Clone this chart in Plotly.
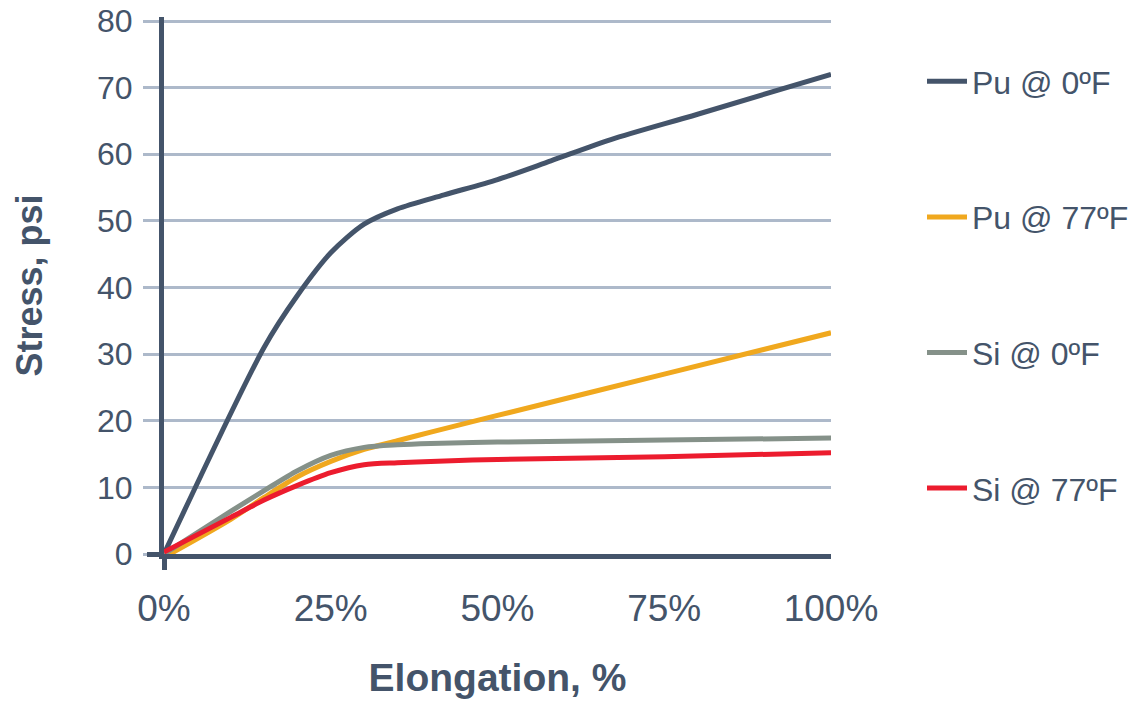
import plotly.graph_objects as go

# Data (elongation %, stress psi)
pu0_x = [0, 15, 20, 25, 30, 35, 42, 50, 58, 67, 80, 100]
pu0_y = [0, 31, 38.8, 45.2, 49.5, 51.8, 53.9, 56.2, 59.0, 62.2, 66.0, 72.0]

pu77_x = [0, 10, 15, 20, 25, 30, 35, 40, 50, 75, 100]
pu77_y = [-0.5, 5.2, 8.5, 11.6, 13.9, 15.7, 17.0, 18.3, 20.8, 27.0, 33.2]

si0_x = [0, 10, 15, 20, 25, 30, 35, 40, 50, 75, 100]
si0_y = [0, 6.4, 9.5, 12.5, 14.8, 16.0, 16.4, 16.6, 16.8, 17.1, 17.4]

si77_x = [0, 10, 15, 20, 25, 30, 35, 40, 50, 75, 100]
si77_y = [0.3, 5.5, 8.1, 10.3, 12.2, 13.4, 13.7, 13.9, 14.2, 14.6, 15.2]

names = ["Pu @ 0ºF", "Pu @ 77ºF", "Si @ 0ºF", "Si @ 77ºF"]
colors = ["#44546a", "#f0a81e", "#859189", "#ec1c2e"]

x_ticks = [0, 25, 50, 75, 100]
x_labels = ["0%", "25%", "50%", "75%", "100%"]
y_ticks = [0, 10, 20, 30, 40, 50, 60, 70, 80]

DARK = "#44546a"
GRID = "#adb9ca"
FONT = "Liberation Sans, Arial, sans-serif"

W, H = 1130, 693
ML, MR, MT, MB = 156, 307, 9, 147

fig = go.Figure()
series = [(pu0_x, pu0_y), (pu77_x, pu77_y), (si0_x, si0_y), (si77_x, si77_y)]
for i, ((xs, ys), n, c) in enumerate(zip(series, names, colors)):
    fig.add_trace(go.Scatter(
        x=xs, y=ys, name=n, mode="lines",
        line=dict(color=c, width=5, shape="spline", smoothing=0.8),
        legendgroup=f"g{i}", cliponaxis=False,
    ))

# empty trace so the overlay axes (used only for the origin stubs) are drawn
fig.add_trace(go.Scatter(x=[], y=[], xaxis="x2", yaxis="y2",
                         showlegend=False, hoverinfo="skip"))

fig.update_layout(
    width=W, height=H,
    margin=dict(l=ML, r=MR, t=MT, b=MB, autoexpand=False),
    paper_bgcolor="white", plot_bgcolor="white",
    font=dict(family=FONT, color=DARK),
    showlegend=True,
    legend=dict(
        xref="container", yref="container",
        x=914 / W, xanchor="left", y=1 - 46 / H, yanchor="top",
        font=dict(size=32, color=DARK, family=FONT),
        tracegroupgap=91, itemwidth=40, maxheight=650,
        bgcolor="rgba(0,0,0,0)",
    ),
    xaxis=dict(
        range=[0, 100], tickmode="array", tickvals=x_ticks, ticktext=x_labels,
        showgrid=False, zeroline=False,
        showline=True, linecolor=DARK, linewidth=5, layer="below traces",
        ticks="", ticklabelstandoff=18, ticklabeloverflow="allow",
        tickfont=dict(size=37, color=DARK, family=FONT),
        title=dict(text="<b>Elongation, %</b>", font=dict(size=39, color=DARK, family=FONT), standoff=37),
    ),
    yaxis=dict(
        range=[0, 80.6], tickmode="array", tickvals=y_ticks,
        showgrid=True, gridcolor=GRID, gridwidth=3,
        zeroline=False,
        showline=True, linecolor=DARK, linewidth=5, layer="below traces",
        ticks="outside", ticklen=16, tickwidth=3, tickcolor=GRID,
        ticklabelstandoff=4, ticklabeloverflow="allow",
        tickfont=dict(size=32, color=DARK, family=FONT),
        title=dict(text="<b>Stress, psi</b>", font=dict(size=36, color=DARK, family=FONT), standoff=45),
    ),
    # overlay axes: one dark tick at the origin each, extending the axis lines
    xaxis2=dict(
        overlaying="x", matches="x", side="bottom", range=[0, 100],
        tickmode="array", tickvals=[0], showticklabels=False,
        ticks="outside", ticklen=15, tickwidth=5, tickcolor=DARK,
        showgrid=False, zeroline=False, showline=False,
    ),
    yaxis2=dict(
        overlaying="y", matches="y", side="left", range=[0, 80.6],
        tickmode="array", tickvals=[0], showticklabels=False,
        ticks="outside", ticklen=16, tickwidth=5, tickcolor=DARK,
        showgrid=False, zeroline=False, showline=False,
    ),
)

fig.write_html("out.html")
